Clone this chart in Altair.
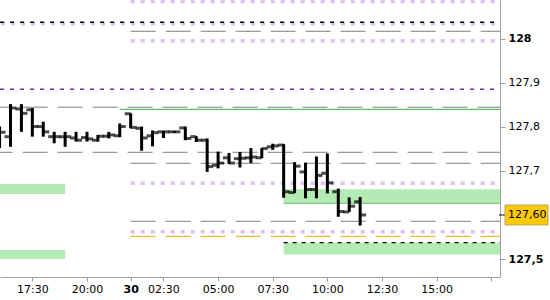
import altair as alt
import pandas as pd

# ---------------- data ----------------
bar_day = [29] * 12 + [30] * 22
bar_time = ["16:00", "16:30", "17:00", "17:30", "18:00", "18:30", "19:00", "19:30",
            "20:00", "20:30", "21:00", "21:30",
            "01:00", "01:30", "02:00", "02:30", "03:00", "03:30", "04:00", "04:30",
            "05:00", "05:30", "06:00", "06:30", "07:00", "07:30", "08:00", "08:30",
            "09:00", "09:30", "10:00", "10:30", "11:00", "11:30"]
opens = [127.760, 127.778, 127.841, 127.839, 127.801, 127.778, 127.778, 127.775,
         127.776, 127.770, 127.779, 127.780,
         127.830, 127.797, 127.780, 127.789, 127.789, 127.798, 127.778, 127.770,
         127.713, 127.730, 127.728, 127.730, 127.730, 127.755, 127.759, 127.651,
         127.698, 127.658, 127.695, 127.653, 127.607, 127.630]
highs = [127.801, 127.852, 127.852, 127.843, 127.812, 127.789, 127.789, 127.789,
         127.789, 127.782, 127.789, 127.808,
         127.831, 127.801, 127.792, 127.791, 127.791, 127.801, 127.779, 127.774,
         127.744, 127.741, 127.743, 127.752, 127.752, 127.762, 127.761, 127.720,
         127.719, 127.733, 127.740, 127.660, 127.640, 127.641]
lows = [127.752, 127.755, 127.789, 127.778, 127.778, 127.763, 127.755, 127.767,
        127.767, 127.767, 127.774, 127.777,
        127.797, 127.746, 127.756, 127.775, 127.787, 127.770, 127.766, 127.698,
        127.706, 127.716, 127.708, 127.718, 127.729, 127.748, 127.639, 127.650,
        127.638, 127.638, 127.649, 127.596, 127.607, 127.576]
closes = [127.788, 127.843, 127.831, 127.801, 127.789, 127.778, 127.778, 127.770,
          127.773, 127.779, 127.782, 127.801,
          127.799, 127.775, 127.787, 127.789, 127.789, 127.774, 127.770, 127.710,
          127.718, 127.718, 127.729, 127.732, 127.751, 127.757, 127.653, 127.711,
          127.658, 127.690, 127.673, 127.608, 127.620, 127.600]

last_price = 127.60

# levels
gray_dash_full = [127.845, 127.7425]
gray_dash_day30 = [128.0175, 127.7175, 127.5857]
lilac_dot_full = [128.0345]
lilac_dot_day30 = [128.085, 127.996, 127.672, 127.562]
purple_dash_full = [127.8857]
black_dash_full = [128.038]
black_dash_late = [127.537]
orange_dash_day30 = [127.5516]
green_line_values = [127.840, 127.627]
green_line_start = [(29, "21:30"), (30, "08:00")]
band_low = [127.648, 127.500, 127.6295, 127.510]
band_high = [127.6705, 127.5205, 127.6584, 127.537]
band_start = [(29, "16:00"), (29, "16:00"), (30, "08:00"), (30, "08:00")]
band_end = [(29, "19:00"), (29, "19:00"), (30, "18:00"), (30, "18:00")]

tick_day = [29, 29, 30, 30, 30, 30, 30, 30, 30, 30]
tick_time = ["17:30", "20:00", "01:00", "02:30", "05:00", "07:30", "10:00", "12:30", "15:00", "17:30"]
tick_label = ["17:30", "20:00", "30", "02:30", "05:00", "07:30", "10:00", "12:30", "15:00", ""]

y_ticks = [127.5, 127.7, 127.8, 127.9, 128.0]


# session axis: day 29 from 16:00, trading pause 22:00-01:00 compressed
def session_pos(day, hhmm):
    h, m = map(int, hhmm.split(":"))
    hours = h + m / 60
    return hours - 16 if day == 29 else hours + 5


START = session_pos(29, "16:00")
DAY30 = session_pos(30, "01:00")
END = session_pos(30, "18:00")

bars = pd.DataFrame({
    "t": [session_pos(d, s) for d, s in zip(bar_day, bar_time)],
    "open": opens, "high": highs, "low": lows, "close": closes,
})

x_scale = alt.Scale(domain=[0.02, 22.9], nice=False, zero=False)
y_scale = alt.Scale(domain=[127.4591, 128.0886], nice=False, zero=False)

tick_vals = [session_pos(d, s) for d, s in zip(tick_day, tick_time)]
label_expr = "''"
for v, lab in reversed(list(zip(tick_vals, tick_label))):
    label_expr = f"datum.value == {v} ? '{lab}' : ({label_expr})"

x_axis = alt.Axis(values=tick_vals, labelExpr=label_expr, title=None, orient="bottom",
                  tickSize=4, labelPadding=2, labelFlush=False, labelOverlap=False,
                  labelFontWeight={"condition": {"test": f"datum.value == {DAY30}", "value": "bold"},
                                   "value": "normal"})
y_axis = alt.Axis(values=y_ticks, orient="right", title=None, tickSize=5, labelPadding=3,
                  labelFlush=False, labelOverlap=False,
                  labelExpr="datum.value == 128 ? '128' : replace(format(datum.value, '.1f'), '.', ',')",
                  labelFontWeight={"condition": {"test": "datum.value == 128 || datum.value == 127.5",
                                                 "value": "bold"}, "value": "normal"})


def X(field):
    return alt.X(field, scale=x_scale, axis=x_axis)


def Y(field):
    return alt.Y(field, scale=y_scale, axis=y_axis)


def hlines(values, start, end, color, width, dash=None, offset=0):
    df = pd.DataFrame({"v": values, "s": [start] * len(values), "e": [end] * len(values)})
    kw = dict(color=color, strokeWidth=width, clip=True)
    if dash:
        kw["strokeDash"] = dash
        kw["strokeDashOffset"] = offset
    return alt.Chart(df).mark_rule(**kw).encode(x=X("s:Q"), x2="e:Q", y=Y("v:Q"))


bands_df = pd.DataFrame({
    "lo": band_low, "hi": band_high,
    "s": [session_pos(*p) for p in band_start], "e": [session_pos(*p) for p in band_end],
})
bands = alt.Chart(bands_df).mark_rect(color="#b4ebb4", clip=True).encode(
    x=X("s:Q"), x2="e:Q", y=Y("lo:Q"), y2="hi:Q")

green_df = pd.DataFrame({"v": green_line_values,
                         "s": [session_pos(*p) for p in green_line_start],
                         "e": [END] * len(green_line_values)})
green_lines = alt.Chart(green_df).mark_rule(color="#5cbf5c", strokeWidth=1.3, clip=True).encode(
    x=X("s:Q"), x2="e:Q", y=Y("v:Q"))

layers = [
    bands,
    hlines(gray_dash_full, START, END, "#808080", 1, [25, 10], 12),
    hlines(gray_dash_day30, DAY30, END, "#808080", 1, [25, 10], 0),
    hlines(lilac_dot_full, START, END, "#dcc1f2", 3.5, [4, 6], 8.5),
    hlines(lilac_dot_day30, DAY30, END, "#dcc1f2", 3.5, [4, 6], 0),
    hlines(purple_dash_full, START, END, "#7326a8", 1.5, [4, 6], 9.5),
    hlines(black_dash_full, START, END, "#000000", 1.5, [4, 6], 9.5),
    hlines(black_dash_late, session_pos(30, "08:00"), END, "#000000", 1.2, [4, 5], 0),
    hlines(orange_dash_day30, DAY30, END, "#fbb829", 1.3, [25, 10], 0),
    green_lines,
]

base = alt.Chart(bars)
body = base.mark_rule(color="#000000", strokeWidth=3, clip=True).encode(
    x=X("t:Q"), y=Y("low:Q"), y2="high:Q")
open_tick = base.mark_tick(color="#000000", orient="horizontal", size=6, thickness=3,
                           xOffset=-3, clip=True).encode(x=X("t:Q"), y=Y("open:Q"))
close_tick = base.mark_tick(color="#000000", orient="horizontal", size=6, thickness=3,
                            xOffset=3, clip=True).encode(x=X("t:Q"), y=Y("close:Q"))

price_df = pd.DataFrame({"p": [last_price], "lab": [f"{last_price:.2f}".replace(".", ",")]})
price_base = alt.Chart(price_df)
price_tick = price_base.mark_rule(color="#000000", strokeWidth=1).encode(
    x=alt.value(499), x2=alt.value(505), y=Y("p:Q"))
badge = price_base.mark_rect(color="#fcc80a", stroke="#b9a75a", strokeWidth=1, height=20).encode(
    x=alt.value(505), x2=alt.value(548), y=Y("p:Q"))
badge_text = price_base.mark_text(align="left", baseline="middle", font="DejaVu Sans",
                                  fontSize=11, color="#000000").encode(
    x=alt.value(508), y=Y("p:Q"), text="lab:N")

chart = alt.layer(*layers, body, open_tick, close_tick, price_tick, badge, badge_text).properties(
    width=500, height=277,
    autosize=alt.AutoSizeParams(type="none"),
    padding={"left": 0, "top": 0, "right": 50, "bottom": 23},
    background="#ffffff",
).configure_view(strokeWidth=0).configure_axis(
    labelFont="DejaVu Sans", labelFontSize=11, labelColor="#000000",
    domainColor="#a0a0a0", tickColor="#a0a0a0", grid=False,
)

chart.save("out.html", embed_options={"renderer": "svg", "actions": False})
